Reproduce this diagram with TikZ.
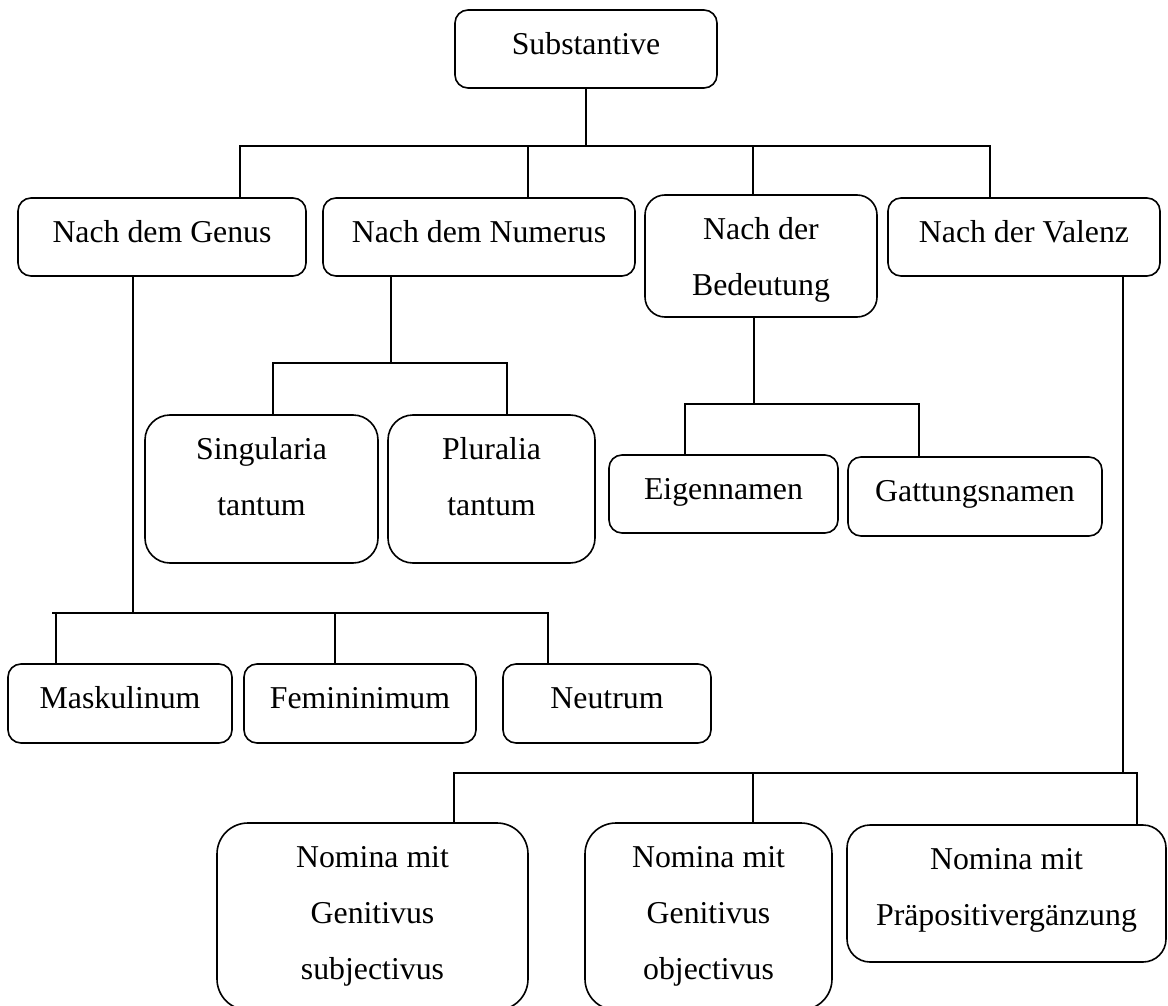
\documentclass[tikz,border=0pt]{standalone}
\usepackage{fontspec}
\setmainfont{Liberation Serif}
\usetikzlibrary{fit}
\tikzset{
  box/.style={draw, line width=1.6pt, inner sep=0pt, outer sep=0pt},
  txt/.style={align=center, inner sep=0pt, anchor=north, font=\fontsize{31.8}{56}\selectfont},
  conn/.style={line width=1.6pt},
}
\newcommand\drawbox[7]{%
  \node[box, rounded corners=#6pt, fit={(#2,#3) (#4,#5)}] (#1) {};
  \node[txt] (#1-t) at ([yshift=-5.0pt]#1.north) {\strut #7};
}
\begin{document}
\begin{tikzpicture}[x=1pt,y=-1pt]
\useasboundingbox[fill=white] (0,0) rectangle (1168,1006);

% level 0
\drawbox{sub}{455}{10}{717}{88}{13}{Substantive}
% level 1
\drawbox{genus}{18}{198}{306}{276}{13}{Nach dem Genus}
\drawbox{num}{323}{198}{635}{276}{13}{Nach dem Numerus}
\drawbox{bed}{645}{195}{877}{317}{20}{Nach der\\Bedeutung}
\drawbox{val}{888}{198}{1160}{276}{13}{Nach der Valenz}
% Numerus children
\drawbox{sing}{145}{415}{378}{563}{25}{Singularia\\tantum}
\drawbox{plur}{388}{415}{595}{563}{25}{Pluralia\\tantum}
% Bedeutung children
\drawbox{eig}{609}{455}{838}{533}{13}{Eigennamen}
\drawbox{gat}{848}{457}{1102}{536}{13}{Gattungsnamen}
% Genus children
\drawbox{mask}{8}{664}{232}{743}{13}{Maskulinum}
\drawbox{fem}{244}{664}{476}{743}{13}{Femininimum}
\drawbox{neu}{503}{664}{711}{743}{13}{Neutrum}
% Valenz children
\drawbox{nom1}{217}{823}{528}{1010}{31}{Nomina mit\\Genitivus\\subjectivus}
\drawbox{nom2}{585}{823}{832}{1010}{31}{Nomina mit\\Genitivus\\objectivus}
\drawbox{nom3}{847}{825}{1166}{962}{23}{Nomina mit\\Präpositivergänzung}

% junction coordinates
\coordinate (j0) at (586,146);
\coordinate (g0) at (240,146);
\coordinate (n0) at (528,146);
\coordinate (b0) at (753,146);
\coordinate (v0) at (990,146);

\coordinate (nv) at (391,363);
\coordinate (sl) at (273,363);
\coordinate (pr) at (507,363);

\coordinate (bv) at (754,404);
\coordinate (el) at (685,404);
\coordinate (gr) at (919,404);

\coordinate (gv) at (133,613);
\coordinate (gl) at (52,613);
\coordinate (md) at (56,613);
\coordinate (fd) at (335,613);
\coordinate (nd) at (548,613);

\coordinate (vv) at (1123,773);
\coordinate (ad) at (454,773);
\coordinate (od) at (753,773);
\coordinate (pd) at (1137,773);

% connectors
\draw[conn] (sub.south -| j0) -- (j0);
\draw[conn] (g0 |- genus.north) -- (g0) -- (v0) -- (v0 |- val.north);
\draw[conn] (n0) -- (n0 |- num.north);
\draw[conn] (b0) -- (b0 |- bed.north);

\draw[conn] (nv |- num.south) -- (nv);
\draw[conn] (sl |- sing.north) -- (sl) -- (pr) -- (pr |- plur.north);

\draw[conn] (bv |- bed.south) -- (bv);
\draw[conn] (el |- eig.north) -- (el) -- (gr) -- (gr |- gat.north);

\draw[conn] (gv |- genus.south) -- (gv);
\draw[conn] (gl) -- (nd) -- (nd |- neu.north);
\draw[conn] (md) -- (md |- mask.north);
\draw[conn] (fd) -- (fd |- fem.north);

\draw[conn] (vv |- val.south) -- (vv);
\draw[conn] (ad |- nom1.north) -- (ad) -- (pd) -- (pd |- nom3.north);
\draw[conn] (od) -- (od |- nom2.north);
\end{tikzpicture}
\end{document}
